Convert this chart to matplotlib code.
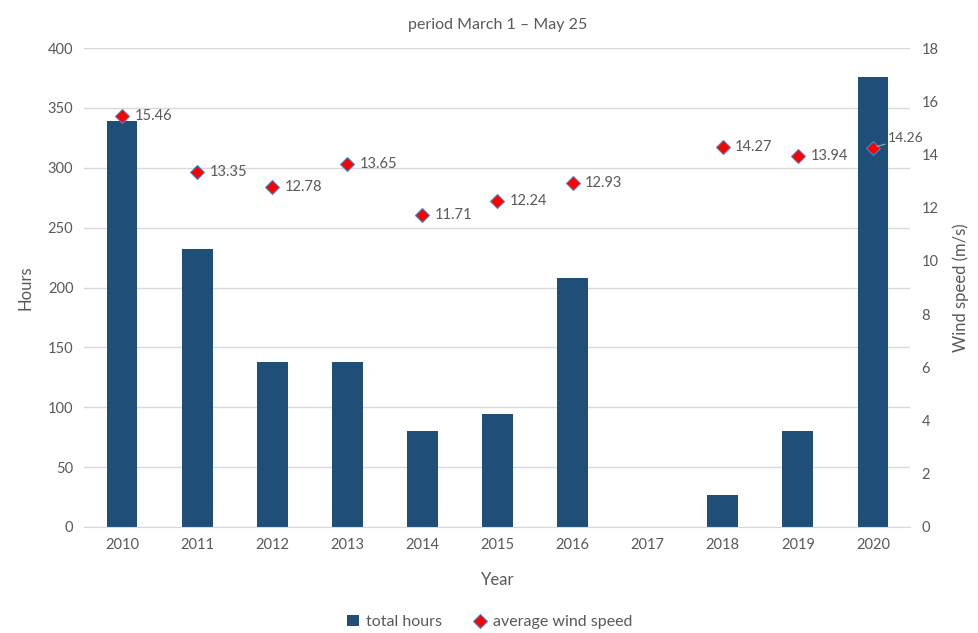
import matplotlib
matplotlib.use("Agg")
import matplotlib.pyplot as plt
import numpy as np
from matplotlib.lines import Line2D
from matplotlib.patches import Patch

years = ["2010", "2011", "2012", "2013", "2014", "2015", "2016", "2017", "2018", "2019", "2020"]
total_hours = [339, 232, 138, 138, 80, 94, 208, 0, 27, 80, 376]
wind_speed = [15.46, 13.35, 12.78, 13.65, 11.71, 12.24, 12.93, np.nan, 14.27, 13.94, 14.26]

plt.rcParams['font.family'] = ['Lato', 'DejaVu Sans']
grey = '#595959'
bar_color = '#1F4E79'

fig = plt.figure(figsize=(9.79, 6.33), dpi=100)
ax = fig.add_axes([0.0863, 0.1675, 0.8437, 0.7565])
x = np.arange(len(years))
ax.bar(x, total_hours, width=0.41, color=bar_color, zorder=2)
ax.set_xlim(-0.5, len(years) - 0.5)
ax.set_ylim(0, 400)
ax.set_yticks(range(0, 401, 50))
ax.set_xticks(x)
ax.set_xticklabels(years)
ax.grid(axis='y', color='#D9D9D9', linewidth=1, zorder=0)
for s in ['top', 'right', 'left']:
    ax.spines[s].set_visible(False)
ax.spines['bottom'].set_color('#D9D9D9')
ax.tick_params(axis='both', length=0, colors=grey, labelsize=10.5, pad=8)
ax.set_ylabel('Hours', color=grey, fontsize=12, labelpad=10)
ax.set_xlabel('Year', color=grey, fontsize=12, labelpad=14)
ax.set_title('period March 1 – May 25', color=grey, fontsize=11.5, pad=14)

ax2 = ax.twinx()
ax2.set_ylim(0, 18)
ax2.set_yticks(range(0, 19, 2))
for s in ['top', 'right', 'left', 'bottom']:
    ax2.spines[s].set_visible(False)
ax2.tick_params(axis='y', length=0, colors=grey, labelsize=10.5, pad=8)
ax2.set_ylabel('Wind speed (m/s)', color=grey, fontsize=12, labelpad=10)
ax2.plot(x, wind_speed, linestyle='none', marker='D', markersize=7,
         markerfacecolor='red', markeredgecolor='#4A86C8', markeredgewidth=0.8, zorder=3)
for xi, v in zip(x, wind_speed):
    if np.isnan(v):
        continue
    if xi == len(years) - 1:
        ax2.annotate(f'{v:.2f}', xy=(xi, v), xytext=(xi + 0.2, v + 0.35),
                     color=grey, fontsize=10, va='center', ha='left',
                     arrowprops=dict(arrowstyle='-', color='#A6A6A6', lw=0.8,
                                     shrinkA=0, shrinkB=3))
    else:
        ax2.annotate(f'{v:.2f}', xy=(xi, v), xytext=(9, 0), textcoords='offset points',
                     color=grey, fontsize=10.5, va='center', ha='left')

handles = [Patch(facecolor=bar_color, label='total hours'),
           Line2D([], [], linestyle='none', marker='D', markersize=7, markerfacecolor='red',
                  markeredgecolor='#4A86C8', markeredgewidth=0.8, label='average wind speed')]
leg = fig.legend(handles=handles, loc='center', bbox_to_anchor=(0.5, 0.017), ncol=2,
                 frameon=False, fontsize=11.5, handlelength=0.8, handletextpad=0.4,
                 columnspacing=2.0)
for t in leg.get_texts():
    t.set_color(grey)

fig.savefig('out.png', dpi=100)
